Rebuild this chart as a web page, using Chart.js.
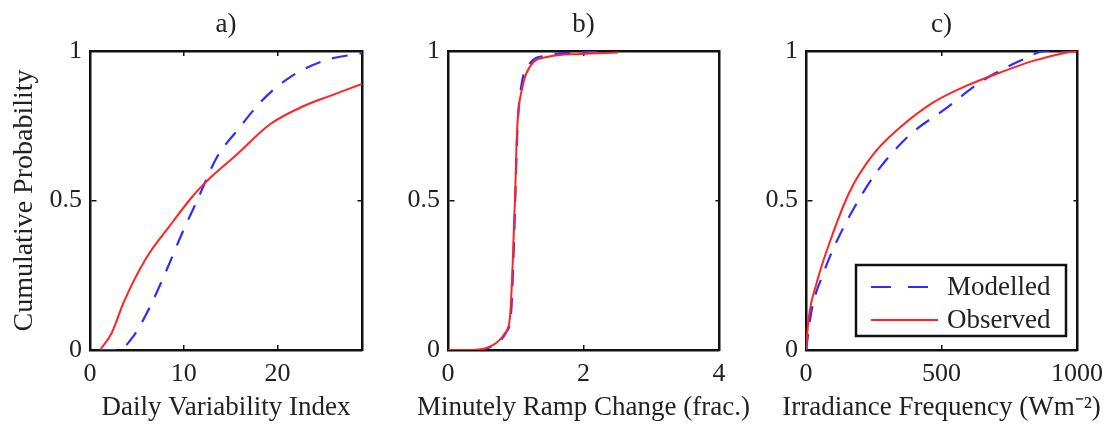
<!DOCTYPE html>
<html>
<head>
<meta charset="utf-8">
<script src="https://cdn.jsdelivr.net/npm/chart.js@4"></script>
<style>
  html, body { margin: 0; padding: 0; background: #fff; }
  #wrap { position: relative; width: 1111px; height: 425px; overflow: hidden; }
  #wrap canvas { position: absolute; top: 0; }
</style>
</head>
<body>
<div id="wrap">
  <canvas id="chartA" width="452" height="425" style="left:0px;width:452px;height:425px"></canvas>
  <canvas id="chartB" width="427" height="425" style="left:370px;width:427px;height:425px"></canvas>
  <canvas id="chartC" width="403" height="425" style="left:740px;width:403px;height:425px"></canvas>
</div>
<script>
// labels
const panelTitles = ['a)', 'b)', 'c)'];
const xAxisTitles = ['Daily Variability Index', 'Minutely Ramp Change (frac.)', 'Irradiance Frequency (Wm\u207B\u00B2)'];
const yAxisTitle = 'Cumulative Probability';
const seriesNames = ['Modelled', 'Observed'];
const xMaxes = [29, 4, 1000];
const xSteps = [10, 2, 500];
const yStep = 0.5;

// a) daily variability index
const dviModelledX = [1.07, 3.0, 4.6, 6.4, 8.2, 9.95, 11.4, 13.5, 15.8, 18.3, 21.3, 24.9, 29];
const dviModelledY = [0, 0, 0.045, 0.145, 0.27, 0.40, 0.498, 0.643, 0.738, 0.833, 0.912, 0.967, 0.993];
const dviObservedX = [1.07, 2.3, 3.6, 6.05, 8.5, 10.7, 12.1, 15.65, 19.2, 22.8, 25.6, 29];
const dviObservedY = [0, 0.056, 0.16, 0.31, 0.415, 0.505, 0.554, 0.654, 0.755, 0.816, 0.85, 0.89];

// b) minutely ramp change
const rampModelledX = [0, 0.4, 0.7, 0.86, 0.93, 0.965, 0.995, 1.025, 1.08, 1.2, 1.45, 1.9, 2.2];
const rampModelledY = [0, 0, 0.02, 0.06, 0.12, 0.3, 0.52, 0.74, 0.88, 0.955, 0.985, 0.995, 1];
const rampObservedX = [0, 0.37, 0.67, 0.84, 0.915, 0.955, 0.99, 1.02, 1.09, 1.21, 1.46, 1.95, 2.51];
const rampObservedY = [0, 0, 0.017, 0.056, 0.11, 0.29, 0.513, 0.736, 0.87, 0.948, 0.98, 0.99, 0.995];

// c) irradiance frequency
const irrModelledX = [0, 21, 64, 113, 199, 273, 384, 519, 642, 790, 888, 1000];
const irrModelledY = [0, 0.134, 0.256, 0.363, 0.509, 0.61, 0.72, 0.81, 0.895, 0.967, 1, 1];
const irrObservedX = [0, 9, 39, 88.6, 162, 248, 347, 470, 593, 716, 839, 962, 1000];
const irrObservedY = [0, 0.1, 0.223, 0.363, 0.531, 0.654, 0.744, 0.828, 0.884, 0.928, 0.967, 0.995, 1];

const serif = "'Liberation Serif', 'Times New Roman', serif";
const ink = '#222';
const blue = 'rgb(45, 45, 255)';
const red = 'rgb(255, 35, 35)';

function toPoints(xs, ys) {
    return xs.map((x, i) => ({ x: x, y: ys[i] }));
}

// legend box drawn inside the bottom-right of the plot (panel c only)
const cdfLegend = {
    id: 'cdfLegend',
    afterDatasetsDraw(chart, args, opts) {
        if (!opts.show) return;
        const ctx = chart.ctx;
        const area = chart.chartArea;
        const boxW = 210, boxH = 71;
        const left = area.right - 11 - boxW;
        const top = area.bottom - 14 - boxH;
        ctx.save();
        ctx.fillStyle = '#fff';
        ctx.fillRect(left, top, boxW, boxH);
        ctx.strokeStyle = '#111';
        ctx.lineWidth = 2.5;
        ctx.strokeRect(left, top, boxW, boxH);
        ctx.font = '27px ' + serif;
        ctx.textBaseline = 'middle';
        chart.data.datasets.forEach((ds, i) => {
            const y = top + 22 + i * 33;
            ctx.beginPath();
            ctx.setLineDash(ds.borderDash ? [20, 17] : []);
            ctx.strokeStyle = ds.borderColor;
            ctx.lineWidth = ds.borderWidth;
            ctx.moveTo(left + 15, y);
            ctx.lineTo(left + (ds.borderDash ? 74 : 82), y);
            ctx.stroke();
            ctx.setLineDash([]);
            ctx.fillStyle = ink;
            ctx.fillText(ds.label, left + 91, y + 1);
        });
        ctx.restore();
    }
};

const frameBorder = { display: true, color: '#111', width: 2.5 };
// grid lines cut down to short inner tick marks at both ends of the plot
const tickGrid = { drawOnChartArea: true, drawTicks: false, color: '#111', lineWidth: 1.5 };
const plainTick = v => String(v);

function buildChart(id, p) {
    return new Chart(document.getElementById(id), {
        type: 'line',
        data: {
            datasets: [
                { label: seriesNames[0], data: toPoints(p.modX, p.modY), borderColor: blue, borderDash: [16, 12], borderWidth: 2.2, order: 2 },
                { label: seriesNames[1], data: toPoints(p.obsX, p.obsY), borderColor: red, borderWidth: 2, order: 1 }
            ]
        },
        options: {
            responsive: false,
            animation: false,
            devicePixelRatio: 1,
            elements: {
                point: { radius: 0 },
                line: { cubicInterpolationMode: 'monotone', fill: false }
            },
            layout: { padding: 0 },
            plugins: {
                legend: { display: false },
                tooltip: { enabled: false },
                title: {
                    display: true, text: p.title, fullSize: false, color: ink,
                    font: { family: serif, size: 27, weight: 'normal', lineHeight: 1 },
                    padding: { top: 11, bottom: 13 }
                },
                subtitle: {
                    display: true, text: p.xTitle, position: 'bottom', fullSize: true, color: ink,
                    font: { family: serif, size: 27, weight: 'normal', lineHeight: 1 },
                    padding: { top: 0, bottom: 4 }
                },
                cdfLegend: { show: p.legend }
            },
            scales: {
                x: {
                    type: 'linear', position: 'bottom', min: 0, max: p.xMax,
                    afterFit: s => { s.height = 44; },
                    border: Object.assign({ dash: [5, 289, 5, 1000] }, frameBorder),
                    grid: tickGrid,
                    ticks: { stepSize: p.xStep, includeBounds: false, maxRotation: 0, color: ink, padding: 9,
                             font: { family: serif, size: 26 }, callback: plainTick }
                },
                y: {
                    type: 'linear', position: 'left', min: 0, max: 1,
                    afterFit: s => { s.width = p.sideWidth; },
                    border: Object.assign({ dash: [5, 261, 5, 1000] }, frameBorder),
                    grid: tickGrid,
                    ticks: { stepSize: yStep, color: ink, padding: 8, font: { family: serif, size: 26 }, callback: plainTick },
                    title: { display: p.showYTitle, text: yAxisTitle, color: ink,
                             font: { family: serif, size: 28, lineHeight: 1 }, padding: { top: 11, bottom: 0 } }
                },
                xTop: {
                    type: 'linear', position: 'top', min: 0, max: p.xMax,
                    afterFit: s => { s.height = 0; },
                    border: frameBorder, grid: { display: false },
                    ticks: { display: false }
                },
                yRight: {
                    type: 'linear', position: 'right', min: 0, max: 1,
                    afterFit: s => { s.width = p.sideWidth; },
                    border: frameBorder, grid: { display: false },
                    ticks: { display: false }
                }
            }
        },
        plugins: [cdfLegend]
    });
}

buildChart('chartA', {
    title: panelTitles[0], xTitle: xAxisTitles[0], xMax: xMaxes[0], xStep: xSteps[0],
    modX: dviModelledX, modY: dviModelledY, obsX: dviObservedX, obsY: dviObservedY,
    sideWidth: 90, showYTitle: true, legend: false
});
buildChart('chartB', {
    title: panelTitles[1], xTitle: xAxisTitles[1], xMax: xMaxes[1], xStep: xSteps[1],
    modX: rampModelledX, modY: rampModelledY, obsX: rampObservedX, obsY: rampObservedY,
    sideWidth: 78, showYTitle: false, legend: false
});
buildChart('chartC', {
    title: panelTitles[2], xTitle: xAxisTitles[2], xMax: xMaxes[2], xStep: xSteps[2],
    modX: irrModelledX, modY: irrModelledY, obsX: irrObservedX, obsY: irrObservedY,
    sideWidth: 66, showYTitle: false, legend: true
});
</script>
</body>
</html>
